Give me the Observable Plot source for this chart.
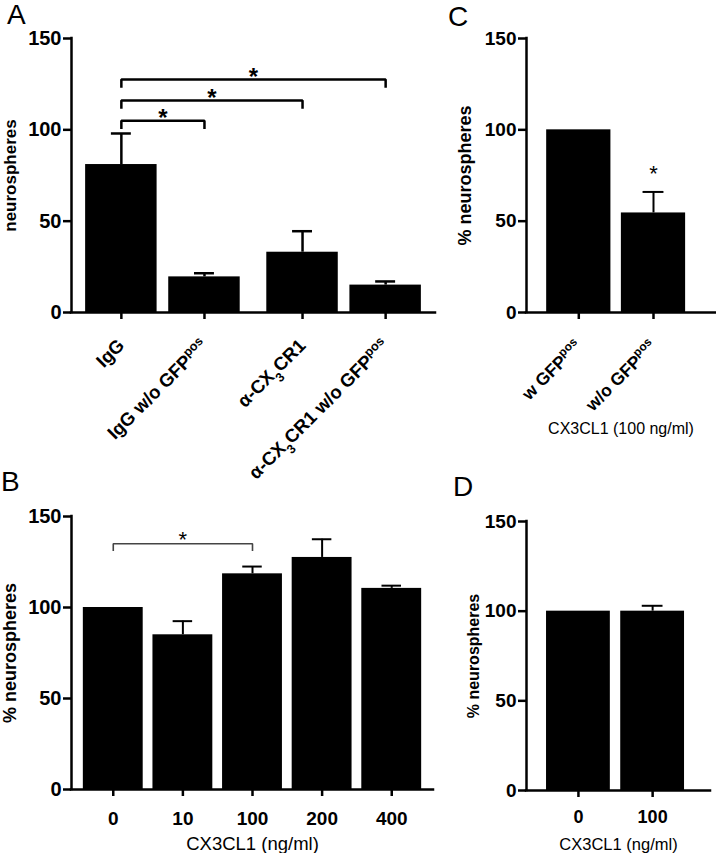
<!DOCTYPE html>
<html><head><meta charset="utf-8">
<script src="https://cdn.jsdelivr.net/npm/d3@7"></script>
<script src="https://cdn.jsdelivr.net/npm/@observablehq/plot@0.6"></script>
<style>
body{margin:0;background:#fff;}
#fig{position:relative;width:716px;height:853px;font-family:"Liberation Sans",Arial,Helvetica,sans-serif;color:#000;overflow:hidden;background:#fff}
.panel{position:absolute}
.letter{position:absolute;font-size:28px;line-height:1;font-family:"Liberation Sans",Arial,sans-serif}
</style></head><body><div id="fig"></div><script>
// ---------- DATA ----------
// Panel A (counts)
const aCategories = ["IgG", "IgG w/o GFP^{pos}", "α-CX_{3}CR1", "α-CX_{3}CR1 w/o GFP^{pos}"];
const aGroups = [0, 0, 1, 1];
const aValues = [81, 19.5, 33, 15];
const aErrors = [17, 2, 11.5, 2];
const aBracketFrom = [0, 0, 0];
const aBracketTo = [1, 2, 3];
const aBracketLevels = [105, 116, 127.5];

// Panel B (% neurospheres vs CX3CL1 dose)
const bCategories = ["0", "10", "100", "200", "400"];
const bValues = [100, 85, 118.5, 127.5, 110.5];
const bErrors = [0, 7.5, 4, 10, 1.5];
const bBracketFrom = [0];
const bBracketTo = [2];
const bBracketLevels = [135];

// Panel C
const cCategories = ["w GFP^{pos}", "w/o GFP^{pos}"];
const cValues = [100, 54.5];
const cErrors = [0, 11.5];
const cStarred = [1];

// Panel D
const dCategories = ["0", "100"];
const dValues = [100, 100];
const dErrors = [0, 3];

const yTicks = [0, 50, 100, 150];

// ---------- DRAWING ----------
const fig = document.getElementById("fig");
const FONT = '"Liberation Sans", Arial, Helvetica, sans-serif';

function richify(svg) {
  svg.querySelectorAll("text").forEach(t => {
    const s = t.textContent;
    if (!/[\^_]\{/.test(s)) return;
    const host = t.querySelector("tspan") || t;
    const parts = s.split(/(\^\{[^}]*\}|_\{[^}]*\})/).filter(p => p !== "");
    while (host.firstChild) host.removeChild(host.firstChild);
    for (const p of parts) {
      const ts = document.createElementNS("http://www.w3.org/2000/svg", "tspan");
      if (p.startsWith("^{")) {
        ts.textContent = p.slice(2, -1);
        ts.setAttribute("baseline-shift", "super");
        ts.setAttribute("font-size", "68%");
      } else if (p.startsWith("_{")) {
        ts.textContent = p.slice(2, -1);
        ts.setAttribute("baseline-shift", "sub");
        ts.setAttribute("font-size", "68%");
      } else {
        ts.textContent = p;
      }
      host.appendChild(ts);
    }
  });
}

function drawPanel(cfg) {
  const pos = cfg.pos;
  const data = cfg.cats.map((c, i) => ({cat: c, pos: pos[i], value: cfg.vals[i], err: cfg.errs[i]}));
  const withErr = data.filter(d => d.err > 0);
  const marks = [
    Plot.rectY(data, {x1: d => d.pos - cfg.barHalf, x2: d => d.pos + cfg.barHalf, y1: d => 0, y2: "value", fill: "#000"}),
    Plot.ruleX(withErr, {x: "pos", y1: "value", y2: d => d.value + d.err, stroke: "#000", strokeWidth: cfg.errW}),
    Plot.ruleY(withErr, {y: d => d.value + d.err, x1: d => d.pos - cfg.cap, x2: d => d.pos + cfg.cap, stroke: "#000", strokeWidth: cfg.errW})
  ];
  if (cfg.brackets) {
    const b = cfg.brackets;
    const pts = [];
    b.from.forEach((f, k) => {
      const x1 = pos[f], x2 = pos[b.to[k]], lv = b.levels[k];
      pts.push({k, x: x1, y: lv - b.drop}, {k, x: x1, y: lv}, {k, x: x2, y: lv}, {k, x: x2, y: lv - b.drop});
    });
    marks.push(Plot.line(pts, {x: "x", y: "y", z: "k", stroke: b.stroke, strokeWidth: b.width, strokeLinejoin: "miter", strokeLinecap: "butt"}));
    marks.push(Plot.text(b.levels, {x: (d, k) => (pos[b.from[k]] + pos[b.to[k]]) / 2, y: d => d, text: () => "*", fontSize: b.starSize, fontWeight: b.starWeight, lineAnchor: "middle", dy: b.starDy}));
  }
  if (cfg.starred) {
    marks.push(Plot.text(cfg.starred.map(i => data[i]), {x: "pos", y: d => d.value + d.err, text: () => "*", fontSize: cfg.starSize, lineAnchor: "middle", dy: cfg.starDy}));
  }
  marks.push(
    Plot.ruleY([0], {stroke: "#000", strokeWidth: 2.5, strokeLinecap: "square"}),
    Plot.ruleX([cfg.domain[0]], {stroke: "#000", strokeWidth: 2.5, strokeLinecap: "square"}),
    Plot.axisY({ticks: yTicks, tickSize: 8, tickPadding: 2, strokeWidth: 2.5, fontSize: cfg.tickFont, fontWeight: "bold", label: null}),
    Plot.axisY({ticks: [], label: cfg.yLabel, labelArrow: "none", labelAnchor: "center", labelOffset: cfg.yLabelOffset, fontSize: cfg.yLabelFont, fontWeight: "bold", tickSize: 0}),
    Plot.axisX({ticks: pos, tickFormat: d => cfg.cats[pos.indexOf(d)], tickSize: 7, tickPadding: cfg.xPad, tickRotate: cfg.rotate, strokeWidth: 2.5, fontSize: cfg.xFont, fontWeight: "bold", label: null})
  );
  if (cfg.xLabel) {
    marks.push(Plot.axisX({ticks: [], label: cfg.xLabel, labelArrow: "none", labelAnchor: "center", labelOffset: cfg.xLabelOffset, fontSize: cfg.xLabelFont, tickSize: 0}));
  }
  const svg = Plot.plot({
    width: cfg.width, height: cfg.height,
    marginLeft: cfg.m[0], marginRight: cfg.m[1], marginTop: cfg.m[2], marginBottom: cfg.m[3],
    x: {type: "linear", domain: cfg.domain},
    y: {domain: [0, 150]},
    style: {fontFamily: FONT, background: "transparent", overflow: "visible", color: "#000"},
    marks
  });
  richify(svg);
  svg.classList.add("panel");
  svg.style.left = cfg.left + "px";
  svg.style.top = cfg.top + "px";
  svg.style.maxWidth = "none";
  fig.appendChild(svg);
}

// Panel A
const aPos = aGroups.map((g, i) => i + 0.18 * g);
drawPanel({
  left: 0, top: 0, width: 440, height: 460, m: [71, 5, 38, 148],
  cats: aCategories, vals: aValues, errs: aErrors, pos: aPos,
  domain: [-0.6, aPos[aPos.length - 1] + 0.6],
  barHalf: 0.43, cap: 0.12, errW: 2.5,
  brackets: {from: aBracketFrom, to: aBracketTo, levels: aBracketLevels, drop: 4.5, stroke: "#000", width: 2.5, starSize: 24, starWeight: "bold", starDy: -2},
  tickFont: 20, yLabel: "neurospheres", yLabelOffset: 68, yLabelFont: 17,
  xFont: 18.5, xPad: 23, rotate: -45
});

// Panel B
const bPos = bCategories.map((c, i) => i);
drawPanel({
  left: 0, top: 460, width: 440, height: 393, m: [71, 7, 56, 64],
  cats: bCategories, vals: bValues, errs: bErrors, pos: bPos,
  domain: [-0.6, bPos.length - 0.4],
  barHalf: 0.43, cap: 0.14, errW: 2,
  brackets: {from: bBracketFrom, to: bBracketTo, levels: bBracketLevels, drop: 4, stroke: "#444", width: 1.6, starSize: 22, starWeight: "normal", starDy: -4},
  tickFont: 20, yLabel: "% neurospheres", yLabelOffset: 68, yLabelFont: 18,
  xFont: 19, xPad: 15, rotate: 0,
  xLabel: "CX3CL1 (ng/ml)", xLabelOffset: 60, xLabelFont: 18.5
});

// Panel C
const cPos = cCategories.map((c, i) => i);
drawPanel({
  left: 440, top: 0, width: 276, height: 460, m: [86, 1, 38, 148],
  cats: cCategories, vals: cValues, errs: cErrors, pos: cPos,
  domain: [-0.7, 1.83],
  barHalf: 0.43, cap: 0.14, errW: 2,
  starred: cStarred, starSize: 22, starDy: -18,
  tickFont: 19, yLabel: "% neurospheres", yLabelOffset: 68, yLabelFont: 18,
  xFont: 17.5, xPad: 24, rotate: -45,
  xLabel: "CX3CL1 (100 ng/ml)", xLabelOffset: 121, xLabelFont: 16
});

// Panel D
const dPos = dCategories.map((c, i) => i);
drawPanel({
  left: 440, top: 460, width: 276, height: 393, m: [86, 6, 61, 63],
  cats: dCategories, vals: dValues, errs: dErrors, pos: dPos,
  domain: [-0.7, 1.78],
  barHalf: 0.43, cap: 0.14, errW: 2,
  tickFont: 19, yLabel: "% neurospheres", yLabelOffset: 59, yLabelFont: 16,
  xFont: 18, xPad: 13, rotate: 0,
  xLabel: "CX3CL1 (ng/ml)", xLabelOffset: 59, xLabelFont: 16.5
});

// Panel letters
[["A", 7, 1], ["B", 1, 468], ["C", 448, 3], ["D", 453, 473]].forEach(([t, l, tp]) => {
  const d = document.createElement("div");
  d.className = "letter";
  d.textContent = t;
  d.style.left = l + "px";
  d.style.top = tp + "px";
  fig.appendChild(d);
});
</script></body></html>
